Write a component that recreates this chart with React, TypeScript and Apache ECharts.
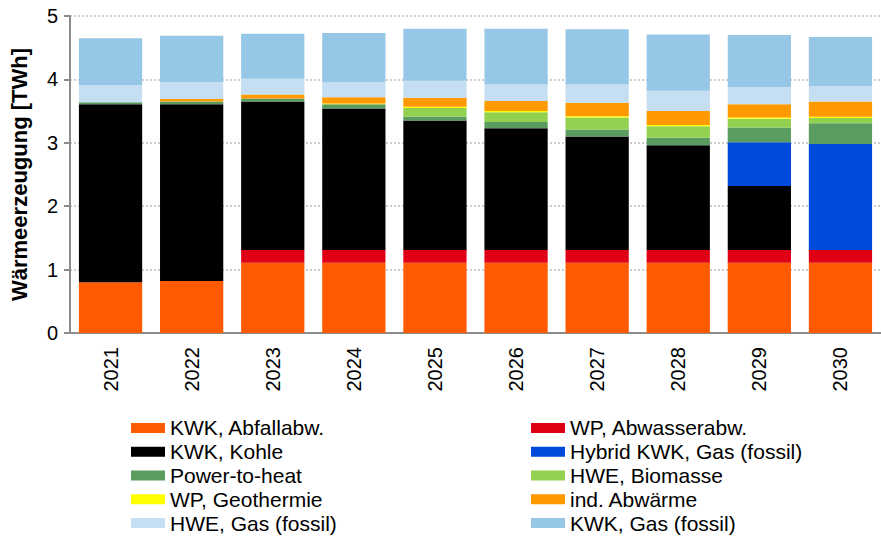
import React, { useEffect, useRef } from "react";
import * as echarts from "echarts";

const years = ["2021", "2022", "2023", "2024", "2025", "2026", "2027", "2028", "2029", "2030"];
const yTicks = [0, 1, 2, 3, 4, 5];

const kwkAbfall = [0.8, 0.82, 1.11, 1.11, 1.11, 1.11, 1.11, 1.11, 1.11, 1.11];
const wpAbwasser = [0, 0, 0.2, 0.2, 0.2, 0.2, 0.2, 0.2, 0.2, 0.2];
const kwkKohle = [2.81, 2.79, 2.34, 2.23, 2.04, 1.92, 1.79, 1.65, 1.01, 0];
const hybridKwk = [0, 0, 0, 0, 0, 0, 0, 0, 0.69, 1.67];
const powerToHeat = [0.03, 0.04, 0.05, 0.07, 0.06, 0.1, 0.11, 0.12, 0.23, 0.33];
const hweBiomasse = [0, 0, 0, 0, 0.14, 0.15, 0.19, 0.18, 0.14, 0.08];
const wpGeothermie = [0, 0, 0, 0.01, 0.02, 0.02, 0.02, 0.02, 0.02, 0.02];
const indAbwaerme = [0, 0.04, 0.06, 0.1, 0.14, 0.16, 0.21, 0.22, 0.21, 0.24];
const hweGas = [0.27, 0.27, 0.25, 0.24, 0.27, 0.26, 0.29, 0.32, 0.27, 0.24];
const kwkGas = [0.74, 0.73, 0.71, 0.77, 0.82, 0.88, 0.87, 0.89, 0.82, 0.78];

const seriesDefs = [
  { name: "KWK, Abfallabw.", data: kwkAbfall, color: "#FF5A00" },
  { name: "WP, Abwasserabw.", data: wpAbwasser, color: "#E00016" },
  { name: "KWK, Kohle", data: kwkKohle, color: "#000000" },
  { name: "Hybrid KWK, Gas (fossil)", data: hybridKwk, color: "#004ADB" },
  { name: "Power-to-heat", data: powerToHeat, color: "#5A9C5F" },
  { name: "HWE, Biomasse", data: hweBiomasse, color: "#92D050" },
  { name: "WP, Geothermie", data: wpGeothermie, color: "#FFFF00" },
  { name: "ind. Abwärme", data: indAbwaerme, color: "#FF9900" },
  { name: "HWE, Gas (fossil)", data: hweGas, color: "#C5DEF1" },
  { name: "KWK, Gas (fossil)", data: kwkGas, color: "#97C7E7" },
];

const legendLeft = ["KWK, Abfallabw.", "KWK, Kohle", "Power-to-heat", "WP, Geothermie", "HWE, Gas (fossil)"];
const legendRight = ["WP, Abwasserabw.", "Hybrid KWK, Gas (fossil)", "HWE, Biomasse", "ind. Abwärme", "KWK, Gas (fossil)"];

const FONT = "Liberation Sans, Arial, sans-serif";

export default function App() {
  const ref = useRef<HTMLDivElement>(null);
  useEffect(() => {
    if (!ref.current) return;
    const chart = echarts.init(ref.current, null, { renderer: "svg" });
    const legendCommon = {
      orient: "vertical" as const,
      top: 416,
      padding: 0,
      height: 122,
      itemWidth: 34,
      itemHeight: 10,
      itemGap: 0,
      icon: "rect",
      selectedMode: false,
      textStyle: { fontFamily: FONT, fontSize: 21, color: "#000", lineHeight: 23.8 },
    };
    chart.setOption({
      animation: false,
      backgroundColor: "#fff",
      grid: { left: 70, top: 16, width: 825, height: 317 },
      legend: [
        { ...legendCommon, left: 131, data: legendLeft },
        { ...legendCommon, left: 531, data: legendRight },
      ],
      xAxis: {
        type: "category",
        data: years,
        axisLine: { lineStyle: { color: "#8c8c8c", width: 2 } },
        axisTick: { show: false },
        axisLabel: {
          rotate: 90,
          fontFamily: FONT,
          fontSize: 20,
          color: "#000",
          margin: 14,
        },
      },
      yAxis: {
        type: "value",
        min: yTicks[0],
        max: yTicks[yTicks.length - 1],
        interval: 1,
        name: "Wärmeerzeugung [TWh]",
        nameLocation: "middle",
        nameGap: 40,
        nameTextStyle: { fontFamily: FONT, fontSize: 22, fontWeight: "bold", color: "#000" },
        axisLine: { show: true, lineStyle: { color: "#8c8c8c", width: 2 } },
        axisTick: { show: true, length: 6, lineStyle: { color: "#8c8c8c", width: 2 } },
        axisLabel: { fontFamily: FONT, fontSize: 20, color: "#000", margin: 12 },
        splitLine: { show: true, lineStyle: { color: "#bdbdbd", type: [2, 2], width: 1.5 } },
      },
      series: seriesDefs.map((s) => ({
        name: s.name,
        type: "bar",
        stack: "total",
        data: s.data,
        barCategoryGap: "22%",
        itemStyle: { color: s.color },
        emphasis: { disabled: true },
      })),
    });
    return () => chart.dispose();
  }, []);
  return (
    <div
      ref={ref}
      style={{ position: "fixed", left: 0, top: 0, width: 881, height: 538, background: "#fff" }}
    />
  );
}
